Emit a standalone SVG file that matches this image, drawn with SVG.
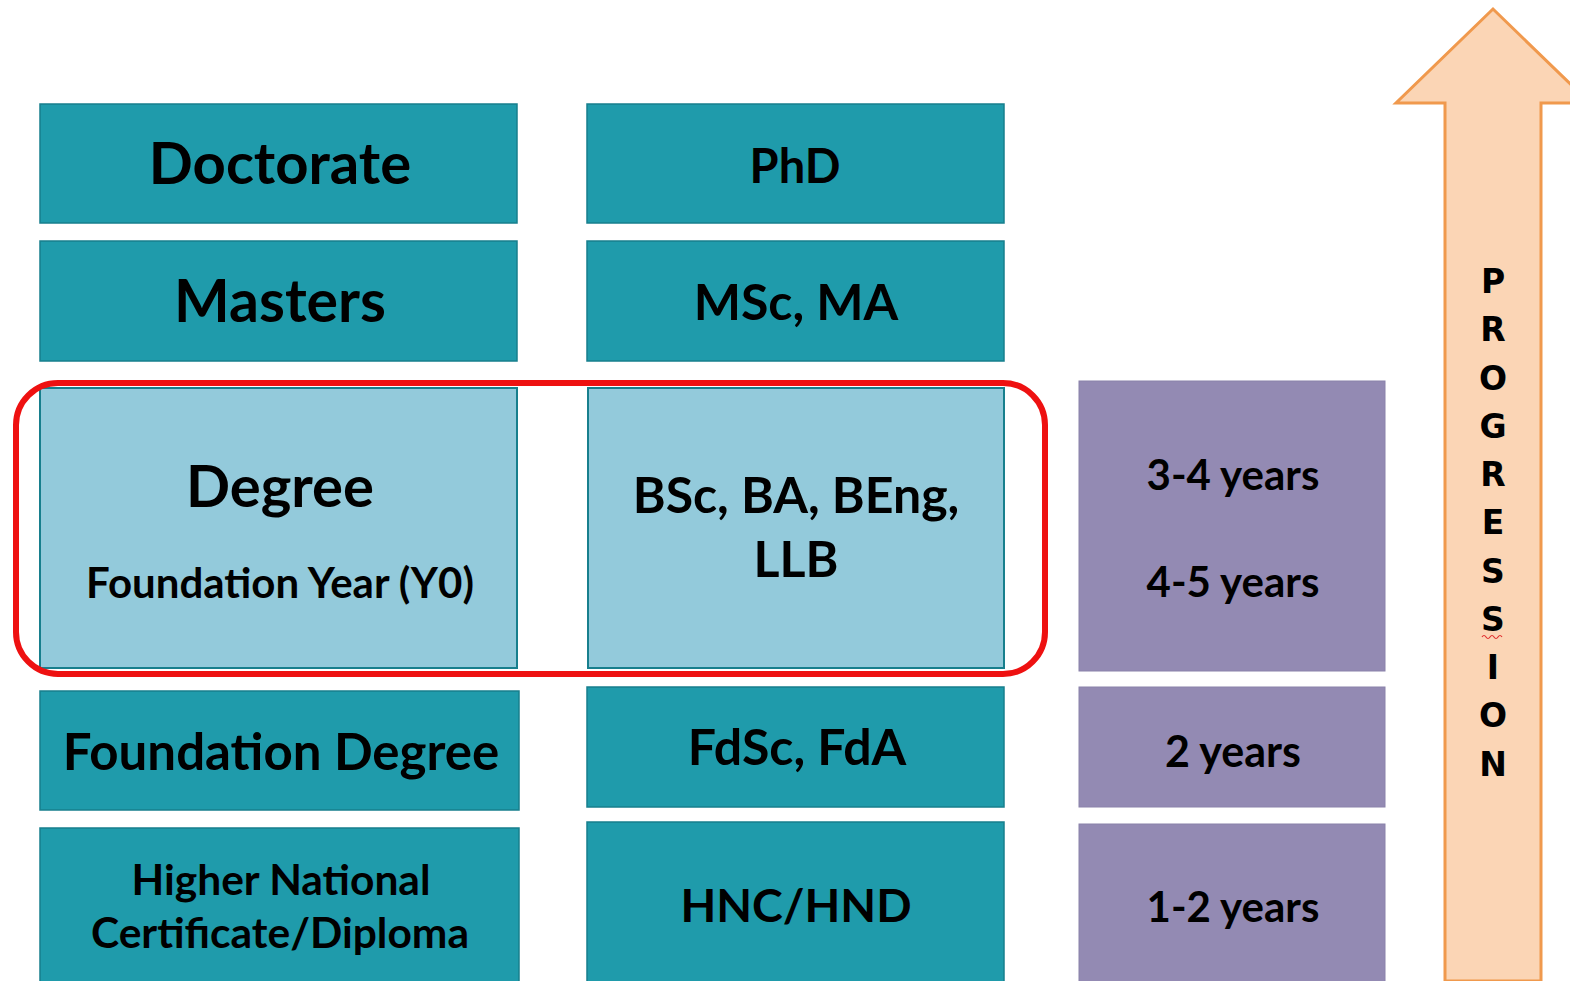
<svg xmlns="http://www.w3.org/2000/svg" width="1570" height="981" viewBox="0 0 1570 981">
<style>
.teal{fill:#1f9bab;stroke:#177f8d;stroke-width:1.5}
.light{fill:#93cadb;stroke:#177f8d;stroke-width:2}
.purple{fill:#938ab3;stroke:#8a82aa;stroke-width:1}
text{font-family:Lato,"Open Sans","Liberation Sans",sans-serif;font-weight:bold;fill:#000;text-anchor:middle}
.prog text{font-family:"DejaVu Sans",Verdana,sans-serif;font-weight:bold;font-size:33px}
</style>
<rect width="1570" height="981" fill="#ffffff"/>
<g id="arrow">
<path d="M1445,981 L1445,103 L1396,103 L1493,9 L1590,103 L1541,103 L1541,981 Z" fill="#fbd5b5" stroke="#f0994d" stroke-width="3"/>
<g class="prog">
<text x="1493" y="293">P</text>
<text x="1493" y="341">R</text>
<text x="1493" y="390">O</text>
<text x="1493" y="438">G</text>
<text x="1493" y="486">R</text>
<text x="1493" y="534">E</text>
<text x="1493" y="583">S</text>
<text x="1493" y="631">S</text>
<text x="1493" y="679">I</text>
<text x="1493" y="727">O</text>
<text x="1493" y="776">N</text>
</g>
<path d="M1482,637 q2,-3 4,0 t4,0 t4,0 t4,0 t4,0" fill="none" stroke="#e03030" stroke-width="1.2"/>
</g>
<g id="doctorate"><rect class="teal" x="40" y="104" width="477" height="119"/><text x="280" y="184" font-size="58">Doctorate</text></g>
<g id="phd"><rect class="teal" x="587" y="104" width="417" height="119"/><text x="795" y="183" font-size="47">PhD</text></g>
<g id="masters"><rect class="teal" x="40" y="241" width="477" height="120"/><text x="280" y="322" font-size="59">Masters</text></g>
<g id="msc"><rect class="teal" x="587" y="241" width="417" height="120"/><text x="796" y="320" font-size="50">MSc, MA</text></g>
<g id="degree"><rect class="light" x="40" y="388" width="477" height="280"/><text x="280" y="507" font-size="58">Degree</text><text x="280" y="598" font-size="42">Foundation Year (Y0)</text></g>
<g id="bsc"><rect class="light" x="588" y="388" width="416" height="280"/><text x="796" y="513" font-size="50">BSc, BA, BEng,</text><text x="796" y="577" font-size="50">LLB</text></g>
<g id="years34"><rect class="purple" x="1079" y="381" width="306" height="290"/><text x="1233" y="490" font-size="42">3-4 years</text><text x="1233" y="597" font-size="42">4-5 years</text></g>
<g id="fdegree"><rect class="teal" x="40" y="691" width="479" height="119"/><text x="281" y="770" font-size="51">Foundation Degree</text></g>
<g id="fdsc"><rect class="teal" x="587" y="687" width="417" height="120"/><text x="797" y="765" font-size="50">FdSc, FdA</text></g>
<g id="years2"><rect class="purple" x="1079" y="687" width="306" height="120"/><text x="1233" y="767" font-size="43">2 years</text></g>
<g id="hnd"><rect class="teal" x="40" y="828" width="479" height="170"/><text x="281" y="895" font-size="42.5">Higher National</text><text x="280" y="948" font-size="42.5">Certificate/Diploma</text></g>
<g id="hnc"><rect class="teal" x="587" y="822" width="417" height="176"/><text x="796" y="922" font-size="46.5">HNC/HND</text></g>
<g id="years12"><rect class="purple" x="1079" y="824" width="306" height="174"/><text x="1233" y="922" font-size="42">1-2 years</text></g>
<g id="connectors">
<rect id="highlight" x="16" y="383" width="1029" height="291" rx="42" ry="42" fill="none" stroke="#ee1111" stroke-width="6"/>
</g>
</svg>
